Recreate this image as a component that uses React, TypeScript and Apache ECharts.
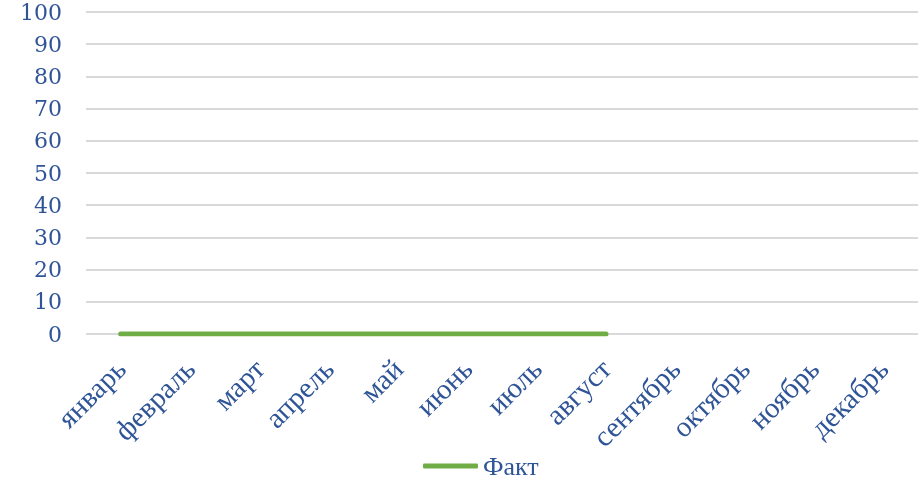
import React, { useEffect, useRef } from "react";
import * as echarts from "echarts";

const categories = ["январь", "февраль", "март", "апрель", "май", "июнь", "июль", "август", "сентябрь", "октябрь", "ноябрь", "декабрь"];
const factValues: (number | null)[] = [0, 0, 0, 0, 0, 0, 0, 0, null, null, null, null];
const yMin = 0;
const yMax = 100;
const yStep = 10;

const textColor = "#2F5597";

export default function App() {
  const ref = useRef<HTMLDivElement>(null);
  useEffect(() => {
    const chart = echarts.init(ref.current!, undefined, { renderer: "svg" });
    chart.setOption({
      animation: false,
      grid: { left: 86, right: 4, top: 12, bottom: 146, containLabel: false },
      legend: {
        top: 453,
        left: 423,
        padding: 0,
        itemWidth: 55,
        itemHeight: 5,
        icon: "roundRect",
        itemGap: 4,
        textStyle: { color: textColor, fontFamily: "Liberation Serif", fontSize: 26, lineHeight: 26 },
        data: ["Факт"],
      },
      xAxis: {
        type: "category",
        data: categories,
        boundaryGap: true,
        axisLine: { show: false },
        axisTick: { show: false },
        axisLabel: {
          rotate: 45,
          interval: 0,
          color: textColor,
          fontFamily: "Liberation Serif",
          fontSize: 29,
          margin: 30,
        },
      },
      yAxis: {
        type: "value",
        min: yMin,
        max: yMax,
        interval: yStep,
        axisLine: { show: false },
        axisTick: { show: false },
        splitLine: { lineStyle: { color: "#D9D9D9", width: 2 } },
        axisLabel: {
          color: textColor,
          fontFamily: "DejaVu Serif",
          fontSize: 22,
          margin: 24,
        },
      },
      series: [
        {
          name: "Факт",
          type: "line",
          data: factValues,
          symbol: "none",
          connectNulls: false,
          lineStyle: { color: "#70AD47", width: 5, cap: "round" },
          itemStyle: { color: "#70AD47" },
        },
      ],
    });
    return () => chart.dispose();
  }, []);
  return <div ref={ref} style={{ position: "fixed", left: 0, top: 0, width: 922, height: 480 }} />;
}
